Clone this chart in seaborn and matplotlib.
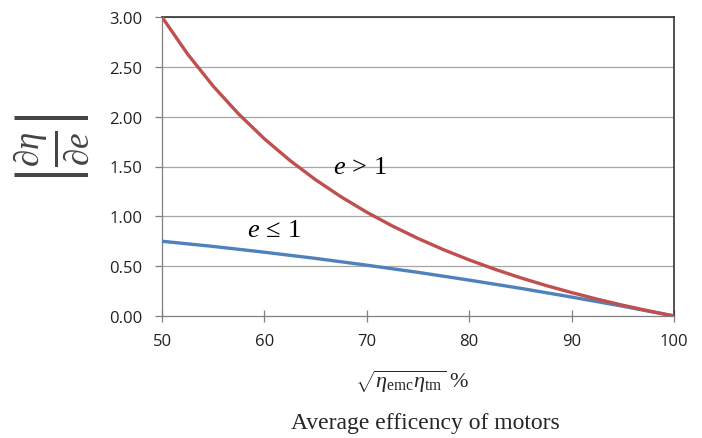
import matplotlib
matplotlib.use("Agg")
import matplotlib.pyplot as plt
import seaborn as sns
import pandas as pd

# Data
x_vals = [50, 52.5, 55, 57.5, 60, 62.5, 65, 67.5, 70, 72.5, 75,
          77.5, 80, 82.5, 85, 87.5, 90, 92.5, 95, 97.5, 100]
red_vals = [3.000, 2.628, 2.306, 2.025, 1.778, 1.560, 1.367, 1.195, 1.041, 0.903, 0.778,
            0.665, 0.563, 0.469, 0.384, 0.306, 0.235, 0.169, 0.108, 0.052, 0.000]
blue_vals = [0.750, 0.724, 0.698, 0.669, 0.640, 0.609, 0.578, 0.544, 0.510, 0.474, 0.438,
             0.399, 0.360, 0.319, 0.278, 0.234, 0.190, 0.144, 0.098, 0.049, 0.000]
x_ticks = [50, 60, 70, 80, 90, 100]
y_ticks = [0.0, 0.5, 1.0, 1.5, 2.0, 2.5, 3.0]

sns.set_theme(style="white")
plt.rcParams["font.family"] = ["Open Sans", "DejaVu Sans"]
plt.rcParams["mathtext.fontset"] = "custom"
plt.rcParams["mathtext.rm"] = "Liberation Serif"
plt.rcParams["mathtext.it"] = "Liberation Serif:italic"
plt.rcParams["mathtext.bf"] = "Liberation Serif:bold"

df = pd.DataFrame({
    "x": x_vals * 2,
    "y": red_vals + blue_vals,
    "s": ["e>1"] * len(x_vals) + ["e<=1"] * len(x_vals),
})

fig = plt.figure(figsize=(7.02, 4.39), dpi=100)
ax = fig.add_axes([162 / 702, 1 - 317 / 439, (674 - 162) / 702, (317 - 18) / 439])

for yv in y_ticks[1:]:
    ax.axhline(yv, color="#a6a6a6", lw=0.9, zorder=0)

sns.lineplot(data=df, x="x", y="y", hue="s", palette={"e>1": "#C0504D", "e<=1": "#4F81BD"},
             hue_order=["e<=1", "e>1"], lw=2.4, legend=False, ax=ax, zorder=3)

ax.set_xlim(50, 100)
ax.set_ylim(0, 3)
ax.set_xticks(x_ticks)
ax.set_yticks(y_ticks)
ax.set_xticklabels([str(v) for v in x_ticks])
ax.set_yticklabels([f"{v:.2f}" for v in y_ticks])
ax.tick_params(axis="x", direction="inout", length=9, width=0.9, color="#808080",
               labelsize=12, pad=8, bottom=True, labelcolor="#222222")
ax.tick_params(axis="y", direction="out", length=5, width=0.9, color="#808080",
               labelsize=12, pad=9, left=True, labelcolor="#222222")

for side in ["left", "bottom"]:
    ax.spines[side].set_color("#808080")
    ax.spines[side].set_linewidth(0.9)
for side in ["top", "right"]:
    ax.spines[side].set_color("#333333")
    ax.spines[side].set_linewidth(1.2)
    ax.spines[side].set_visible(True)
ax.set_xlabel("")
ax.set_ylabel("")

fig.text(52 / 702, 1 - 148 / 439, r"$\left|\frac{\partial\eta}{\partial e}\right|$",
         rotation=90, ha="center", va="center", fontsize=36, color="#444444")

ax.text(69.3, 1.50, r"$e\,>\,1$", fontsize=19, ha="center", va="center", color="black")
ax.text(60.9, 0.87, r"$e\,\leq\,1$", fontsize=19, ha="center", va="center", color="black")

fig.text(412 / 702, 1 - 382 / 439, r"$\sqrt{\eta_{\mathrm{emc}}\eta_{\mathrm{tm}}}$ %",
         ha="center", va="center", fontsize=16, family="Liberation Serif")
fig.text(425 / 702, 1 - 424 / 439, "Average efficency of motors",
         ha="center", va="center", fontsize=17, family="Liberation Serif")

fig.savefig("out.png", dpi=100)
